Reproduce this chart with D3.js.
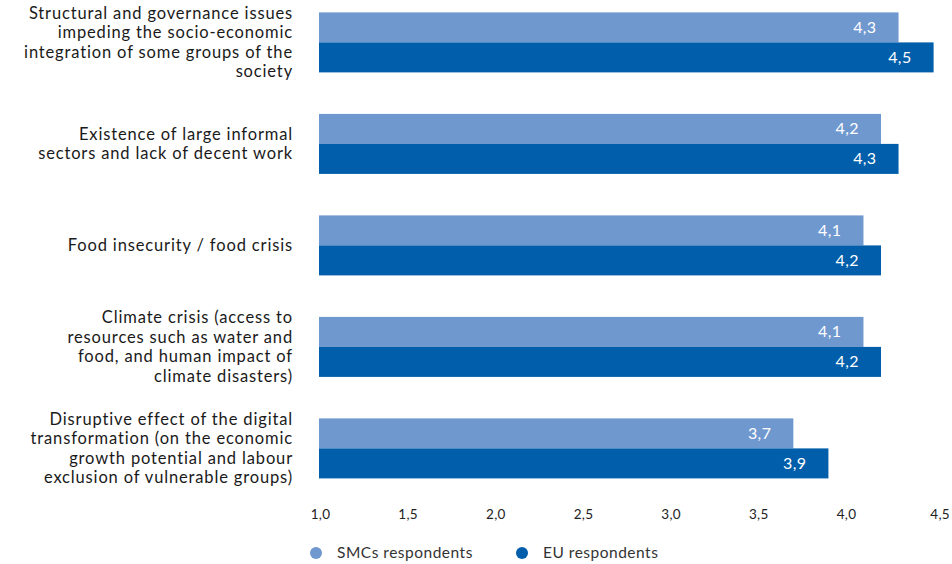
<!DOCTYPE html>
<html>
<head>
<meta charset="utf-8">
<script src="https://cdn.jsdelivr.net/npm/d3@7"></script>
<style>
  html, body { margin: 0; padding: 0; background: #fff; }
  svg { display: block; font-family: Lato, "Open Sans", sans-serif; }
</style>
</head>
<body>
<svg id="chart" width="952" height="564"></svg>
<script>
// Survey categories (each entry is a list of wrapped label lines)
const categories = [
  ["Structural and governance issues", "impeding the socio-economic", "integration of some groups of the", "society"],
  ["Existence of large informal", "sectors and lack of decent work"],
  ["Food insecurity / food crisis"],
  ["Climate crisis (access to", "resources such as water and", "food, and human impact of", "climate disasters)"],
  ["Disruptive effect of the digital", "transformation (on the economic", "growth potential and labour", "exclusion of vulnerable groups)"]
];
const seriesNames = ["SMCs respondents", "EU respondents"];
const smcValues = [4.3, 4.2, 4.1, 4.1, 3.7];
const euValues = [4.5, 4.3, 4.2, 4.2, 3.9];
const tickValues = [1.0, 1.5, 2.0, 2.5, 3.0, 3.5, 4.0, 4.5];

const colors = ["#6f98cf", "#005eaa"];

const svg = d3.select("#chart");
const keys = categories.map((c, i) => "c" + i);

const x = d3.scaleLinear().domain([1.0, 4.5]).range([320, 933.6]);
const y = d3.scaleBand().domain(keys).range([-8.35, 499.15]).paddingInner(0).paddingOuter(0);
const inner = d3.scaleBand().domain(seriesNames).range([0, 60]);

const rows = categories.map((lines, i) => ({
  key: keys[i], lines, values: [smcValues[i], euValues[i]]
}));

const fmt = v => d3.format(".1f")(v).replace(".", ",");

const group = svg.selectAll("g.group").data(rows).join("g")
  .attr("class", "group")
  .attr("transform", d => `translate(0,${y(d.key) + y.bandwidth() / 2 - 30})`);

// Bars
group.selectAll("rect").data(d => d.values.map((v, j) => ({ v, s: seriesNames[j], j })))
  .join("rect")
  .attr("x", x(1.0) - 1)
  .attr("y", d => inner(d.s))
  .attr("width", d => x(d.v) - x(1.0) + 1)
  .attr("height", inner.bandwidth())
  .attr("fill", d => colors[d.j]);

// Value labels inside bars
group.selectAll("text.val").data(d => d.values.map((v, j) => ({ v, s: seriesNames[j], j })))
  .join("text")
  .attr("class", "val")
  .attr("x", d => x(d.v) - 22)
  .attr("y", d => inner(d.s) + inner.bandwidth() / 2)
  .attr("dy", "0.35em")
  .attr("text-anchor", "end")
  .attr("fill", "#fff")
  .style("font-size", "16px")
  .style("letter-spacing", "0.4px")
  .text(d => fmt(d.v));

// Category labels
const lineH = 19.5;
group.append("text")
  .attr("text-anchor", "end")
  .attr("fill", "#1a1a1a")
  .style("font-size", "16.5px")
  .style("letter-spacing", "0.85px")
  .each(function (d) {
    const t = d3.select(this);
    const n = d.lines.length;
    d.lines.forEach((l, k) => {
      t.append("tspan")
        .attr("x", 293)
        .attr("y", 30 + (k - (n - 1) / 2) * lineH)
        .attr("dy", "0.35em")
        .text(l);
    });
  });

// X axis (labels only)
const axis = d3.axisBottom(x).tickValues(tickValues).tickFormat(fmt).tickSize(0).tickPadding(0);
const gx = svg.append("g").attr("transform", "translate(0,509)").call(axis);
gx.select(".domain").remove();
gx.selectAll("text")
  .attr("fill", "#222")
  .style("font-size", "13.5px")
  .style("letter-spacing", "0.3px")
  .style("font-family", "Lato, 'Open Sans', sans-serif");
gx.selectAll(".tick").filter(d => d === 4.5).select("text").attr("dx", 6);

// Legend
const legend = svg.append("g").attr("transform", "translate(316,553)");
const li = legend.selectAll("g").data(seriesNames).join("g")
  .attr("transform", (d, i) => `translate(${i * 206},0)`);
li.append("circle").attr("r", 6).attr("fill", (d, i) => colors[i]);
li.append("text")
  .attr("x", 21)
  .attr("dy", "0.35em")
  .attr("fill", "#333")
  .style("font-size", "15.5px")
  .style("letter-spacing", "0.5px")
  .text(d => d);
</script>
</body>
</html>
